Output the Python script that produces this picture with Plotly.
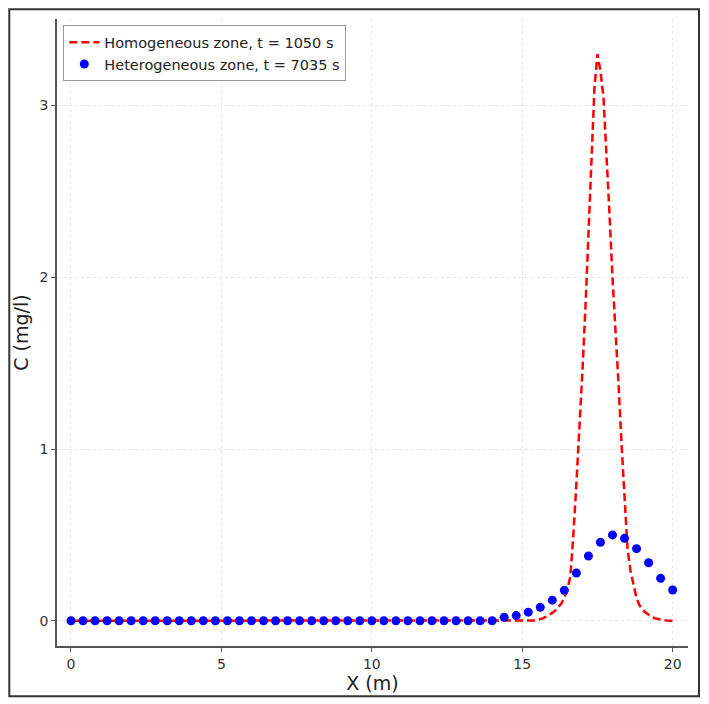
import plotly.graph_objects as go

# Homogeneous zone, t = 1050 s (dashed red line)
homo_x = [0.0, 5.0, 10.0, 14.0, 15.0, 15.1, 15.2, 15.3, 15.4, 15.5, 15.6, 15.7, 15.8, 15.9,
          16.0, 16.1, 16.2, 16.3, 16.4, 16.5, 16.6, 16.7, 16.8, 16.9,
          17.0, 17.1, 17.2, 17.3, 17.4, 17.5, 17.6, 17.7, 17.8, 17.9,
          18.0, 18.1, 18.2, 18.3, 18.4, 18.5, 18.6, 18.7, 18.8, 18.9,
          19.0, 19.1, 19.2, 19.3, 19.4, 19.5, 19.6, 19.7, 19.8, 19.9, 20.0]
homo_c = [0.0, 0.0, 0.0, 0.0, 0.0, 0.0, 0.0, 0.0, 0.002, 0.005, 0.009, 0.015, 0.024, 0.034,
          0.046, 0.06, 0.078, 0.10, 0.135, 0.18, 0.26, 0.50, 0.80, 1.10,
          1.45, 1.82, 2.27, 2.73, 3.10, 3.30, 3.20, 3.05, 2.73, 2.37,
          2.0, 1.72, 1.38, 1.03, 0.70, 0.42, 0.29, 0.20, 0.13, 0.09,
          0.065, 0.048, 0.034, 0.023, 0.015, 0.010, 0.006, 0.004, 0.002, 0.001, 0.0]

# Heterogeneous zone, t = 7035 s (blue dots)
hetero_x = [0.0, 0.4, 0.8, 1.2, 1.6, 2.0, 2.4, 2.8, 3.2, 3.6, 4.0, 4.4, 4.8, 5.2, 5.6,
            6.0, 6.4, 6.8, 7.2, 7.6, 8.0, 8.4, 8.8, 9.2, 9.6, 10.0, 10.4, 10.8, 11.2, 11.6,
            12.0, 12.4, 12.8, 13.2, 13.6, 14.0, 14.4, 14.8, 15.2, 15.6, 16.0, 16.4, 16.8,
            17.2, 17.6, 18.0, 18.4, 18.8, 19.2, 19.6, 20.0]
hetero_c = [0.0, 0.0, 0.0, 0.0, 0.0, 0.0, 0.0, 0.0, 0.0, 0.0, 0.0, 0.0, 0.0, 0.0, 0.0,
            0.0, 0.0, 0.0, 0.0, 0.0, 0.0, 0.0, 0.0, 0.0, 0.0, 0.0, 0.0, 0.0, 0.0, 0.0,
            0.0, 0.0, 0.0, 0.0, 0.0, 0.0, 0.02, 0.03, 0.05, 0.078, 0.12, 0.177, 0.278,
            0.377, 0.457, 0.50, 0.48, 0.42, 0.338, 0.247, 0.179]

x_ticks = [0, 5, 10, 15, 20]
y_ticks = [0, 1, 2, 3]

FONT = "DejaVu Sans"

fig = go.Figure()
fig.add_trace(go.Scatter(
    x=homo_x, y=homo_c, mode="lines", name="Homogeneous zone, t = 1050 s",
    line=dict(color="#ff0000", width=2.5, dash="8px,4px"),
))
fig.add_trace(go.Scatter(
    x=hetero_x, y=hetero_c, mode="markers", name="Heterogeneous zone, t = 7035 s",
    marker=dict(color="#0000ff", size=9, line=dict(width=0)),
))

axis_common = dict(
    showline=True, linecolor="#555555", linewidth=1.5,
    ticks="outside", ticklen=4, tickwidth=1, tickcolor="#555555",
    showgrid=True, gridcolor="#e6e6e6", gridwidth=1, griddash="dot",
    zeroline=False, mirror=False,
    tickfont=dict(family=FONT, size=14, color="#333333"),
)

fig.update_xaxes(
    range=[-0.465, 20.51], tickvals=x_ticks,
    title=dict(text="X (m)", font=dict(family=FONT, size=19, color="#222222"), standoff=4),
    **axis_common,
)
fig.update_yaxes(
    range=[-0.147, 3.504], tickvals=y_ticks,
    title=dict(text="C (mg/l)", font=dict(family=FONT, size=19, color="#222222"), standoff=6),
    **axis_common,
)

fig.update_layout(
    width=709, height=704,
    margin=dict(l=57, r=21, t=19, b=58),
    paper_bgcolor="white", plot_bgcolor="white",
    font=dict(family=FONT, color="#222222"),
    showlegend=True,
    legend=dict(
        x=0.01, y=0.99, xanchor="left", yanchor="top",
        bgcolor="white", bordercolor="#999999", borderwidth=1,
        font=dict(family=FONT, size=14.5, color="#222222"),
        tracegroupgap=0, itemwidth=30,
    ),
    shapes=[dict(
        type="rect", xref="paper", yref="paper",
        x0=-0.0756, x1=1.0174, y0=-0.0803, y1=1.0155,
        line=dict(color="#333333", width=2), fillcolor="rgba(0,0,0,0)", layer="above",
    )],
)

fig.write_html("out.html")
